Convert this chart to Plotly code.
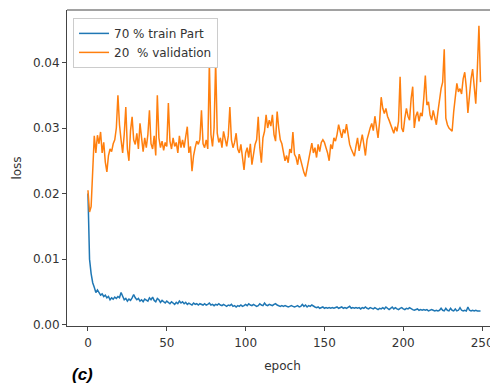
import plotly.graph_objects as go

epochs = list(range(250))

train_loss = [
    0.0200, 0.0100, 0.0078, 0.0064, 0.0057, 0.0049, 0.0053, 0.0048, 0.0045, 0.0047,
    0.0043, 0.0045, 0.0041, 0.0043, 0.0038, 0.0041, 0.0039, 0.0042, 0.0040, 0.0043,
    0.0041, 0.0049, 0.0042, 0.0038, 0.0040, 0.0036, 0.0039, 0.0037, 0.0041, 0.0046,
    0.0041, 0.0038, 0.0040, 0.0036, 0.0038, 0.0035, 0.0039, 0.0037, 0.0036, 0.0041,
    0.0038, 0.0042, 0.0037, 0.0035, 0.0040, 0.0038, 0.0034, 0.0037, 0.0035, 0.0033,
    0.0036, 0.0034, 0.0032, 0.0035, 0.0033, 0.0031, 0.0034, 0.0032, 0.0036, 0.0033,
    0.0035, 0.0032, 0.0034, 0.0031, 0.0033, 0.0032, 0.0030, 0.0033, 0.0031, 0.0032,
    0.0030, 0.0032, 0.0031, 0.0030, 0.0032, 0.0030, 0.0031, 0.0033, 0.0030, 0.0031,
    0.0029, 0.0031, 0.0030, 0.0032, 0.0030, 0.0029, 0.0031, 0.0029, 0.0028, 0.0030,
    0.0029, 0.0031, 0.0028, 0.0029, 0.0027, 0.0029, 0.0028, 0.0030, 0.0028, 0.0029,
    0.0031, 0.0029, 0.0032, 0.0030, 0.0029, 0.0031, 0.0030, 0.0028, 0.0029, 0.0032,
    0.0030, 0.0029, 0.0033, 0.0030, 0.0029, 0.0031, 0.0030, 0.0029, 0.0031, 0.0032,
    0.0030, 0.0029, 0.0028, 0.0029, 0.0028, 0.0029, 0.0028, 0.0027, 0.0028, 0.0029,
    0.0028, 0.0027, 0.0028, 0.0029, 0.0027, 0.0028, 0.0031, 0.0028, 0.0030, 0.0027,
    0.0029, 0.0028, 0.0030, 0.0028, 0.0027, 0.0026, 0.0027, 0.0025, 0.0026, 0.0027,
    0.0025, 0.0026, 0.0025, 0.0026, 0.0025, 0.0026, 0.0025, 0.0026, 0.0027, 0.0025,
    0.0026, 0.0027, 0.0025, 0.0026, 0.0025, 0.0026, 0.0028, 0.0025, 0.0026, 0.0025,
    0.0026, 0.0025, 0.0026, 0.0024, 0.0026, 0.0025, 0.0027, 0.0025, 0.0024, 0.0026,
    0.0025, 0.0024, 0.0026, 0.0025, 0.0023, 0.0025, 0.0024, 0.0026, 0.0024, 0.0027,
    0.0025, 0.0023, 0.0025, 0.0027, 0.0024, 0.0026, 0.0024, 0.0023, 0.0025, 0.0026,
    0.0024, 0.0023, 0.0025, 0.0024, 0.0026, 0.0024, 0.0023, 0.0022, 0.0023, 0.0024,
    0.0022, 0.0023, 0.0022, 0.0023, 0.0022, 0.0023, 0.0021, 0.0022, 0.0023, 0.0022,
    0.0021, 0.0022, 0.0021, 0.0022, 0.0025, 0.0022, 0.0021, 0.0025, 0.0022, 0.0021,
    0.0025, 0.0022, 0.0021, 0.0024, 0.0021, 0.0022, 0.0026, 0.0022, 0.0021, 0.0022,
    0.0021, 0.0027, 0.0022, 0.0021, 0.0022, 0.0021, 0.0022, 0.0021, 0.0021, 0.0021,
]

val_loss = [
    0.0205, 0.0172, 0.0180, 0.0250, 0.0288, 0.0262, 0.0289, 0.0276, 0.0294, 0.0262,
    0.0278, 0.0248, 0.0233, 0.0258, 0.0268, 0.0264, 0.0276, 0.0282, 0.0300, 0.0350,
    0.0305, 0.0282, 0.0262, 0.0290, 0.0332, 0.0268, 0.0250, 0.0296, 0.0317, 0.0282,
    0.0275, 0.0292, 0.0268, 0.0307, 0.0280, 0.0264, 0.0285, 0.0270, 0.0290, 0.0327,
    0.0276, 0.0268, 0.0288, 0.0258, 0.0350, 0.0285, 0.0270, 0.0280, 0.0266, 0.0278,
    0.0272, 0.0338, 0.0280, 0.0268, 0.0285, 0.0272, 0.0278, 0.0262, 0.0288, 0.0270,
    0.0282, 0.0270, 0.0287, 0.0302, 0.0262, 0.0272, 0.0234, 0.0258, 0.0270, 0.0280,
    0.0275, 0.0283, 0.0327, 0.0276, 0.0270, 0.0282, 0.0268, 0.0400, 0.0290, 0.0272,
    0.0300, 0.0402, 0.0292, 0.0278, 0.0285, 0.0270, 0.0295, 0.0280, 0.0272, 0.0288,
    0.0332, 0.0282, 0.0270, 0.0278, 0.0292, 0.0268, 0.0262, 0.0275, 0.0250, 0.0236,
    0.0262, 0.0270, 0.0255, 0.0276, 0.0244, 0.0262, 0.0275, 0.0282, 0.0317, 0.0270,
    0.0247, 0.0285, 0.0295, 0.0320, 0.0300, 0.0312, 0.0303, 0.0320, 0.0290, 0.0280,
    0.0325, 0.0300, 0.0282, 0.0276, 0.0262, 0.0250, 0.0258, 0.0247, 0.0268, 0.0262,
    0.0294, 0.0260, 0.0255, 0.0244, 0.0260, 0.0250, 0.0240, 0.0232, 0.0226, 0.0240,
    0.0255, 0.0265, 0.0277, 0.0262, 0.0270, 0.0255, 0.0275, 0.0264, 0.0278, 0.0282,
    0.0278, 0.0270, 0.0262, 0.0250, 0.0275, 0.0268, 0.0285, 0.0280, 0.0290, 0.0305,
    0.0295, 0.0285, 0.0298, 0.0292, 0.0306, 0.0290, 0.0275, 0.0268, 0.0262, 0.0257,
    0.0272, 0.0285, 0.0265, 0.0280, 0.0290, 0.0275, 0.0258, 0.0282, 0.0292, 0.0300,
    0.0307, 0.0296, 0.0318, 0.0300, 0.0285, 0.0310, 0.0347, 0.0330, 0.0322, 0.0330,
    0.0318, 0.0312, 0.0305, 0.0298, 0.0292, 0.0302, 0.0295, 0.0310, 0.0378, 0.0300,
    0.0294, 0.0315, 0.0330, 0.0318, 0.0312, 0.0345, 0.0363, 0.0300, 0.0318, 0.0325,
    0.0310, 0.0323, 0.0318, 0.0345, 0.0380, 0.0335, 0.0340, 0.0320, 0.0312, 0.0327,
    0.0318, 0.0305, 0.0325, 0.0345, 0.0360, 0.0370, 0.0420, 0.0315, 0.0305, 0.0300,
    0.0297, 0.0295, 0.0325, 0.0350, 0.0368, 0.0355, 0.0360, 0.0352, 0.0375, 0.0385,
    0.0362, 0.0323, 0.0355, 0.0375, 0.0390, 0.0365, 0.0337, 0.0390, 0.0456, 0.0370,
]

x_ticks = [0, 50, 100, 150, 200, 250]
y_ticks = [0.00, 0.01, 0.02, 0.03, 0.04]
y_tick_labels = ["0.00", "0.01", "0.02", "0.03", "0.04"]

fig = go.Figure()
fig.add_trace(go.Scatter(x=epochs, y=train_loss, mode="lines", name="70 % train Part",
                         line=dict(color="#1f77b4", width=1.5)))
fig.add_trace(go.Scatter(x=epochs, y=val_loss, mode="lines", name="20  % validation",
                         line=dict(color="#ff7f0e", width=1.5)))

axis_color = "#444444"
fig.update_layout(
    width=490, height=380,
    margin=dict(l=59, r=0, t=2, b=62, autoexpand=False),
    paper_bgcolor="white", plot_bgcolor="white",
    font=dict(family="DejaVu Sans", size=12, color="#333333"),
    showlegend=True,
    legend=dict(x=0.014, y=0.975, xanchor="left", yanchor="top",
                bgcolor="white", bordercolor="#cccccc", borderwidth=1,
                font=dict(size=12, color="#333333"), itemwidth=30,
                tracegroupgap=2),
    xaxis=dict(range=[-13.3, 260.1], tickmode="array", tickvals=x_ticks,
               showgrid=False, zeroline=False, showline=True, linecolor=axis_color,
               linewidth=1, ticks="outside", ticklen=4, tickcolor=axis_color,
               ticklabelstandoff=2, automargin=False,
               title=dict(text="epoch", standoff=12, font=dict(size=12))),
    yaxis=dict(range=[-0.0002, 0.0480], tickmode="array", tickvals=y_ticks,
               ticktext=y_tick_labels, showgrid=False, zeroline=False, showline=True,
               linecolor=axis_color, linewidth=1, ticks="outside", ticklen=4,
               tickcolor=axis_color, automargin=False,
               title=dict(text="loss", standoff=8, font=dict(size=12))),
)

fig.add_shape(type="line", xref="paper", yref="paper", x0=0, x1=1, y0=1, y1=1,
              line=dict(color=axis_color, width=1))

fig.add_annotation(text="<b><i>(c)</i></b>", xref="paper", yref="paper",
                   x=0.007, y=-0.118, xanchor="left", yanchor="top", showarrow=False,
                   font=dict(family="Liberation Sans", size=17, color="black"))

fig.write_html("out.html")
